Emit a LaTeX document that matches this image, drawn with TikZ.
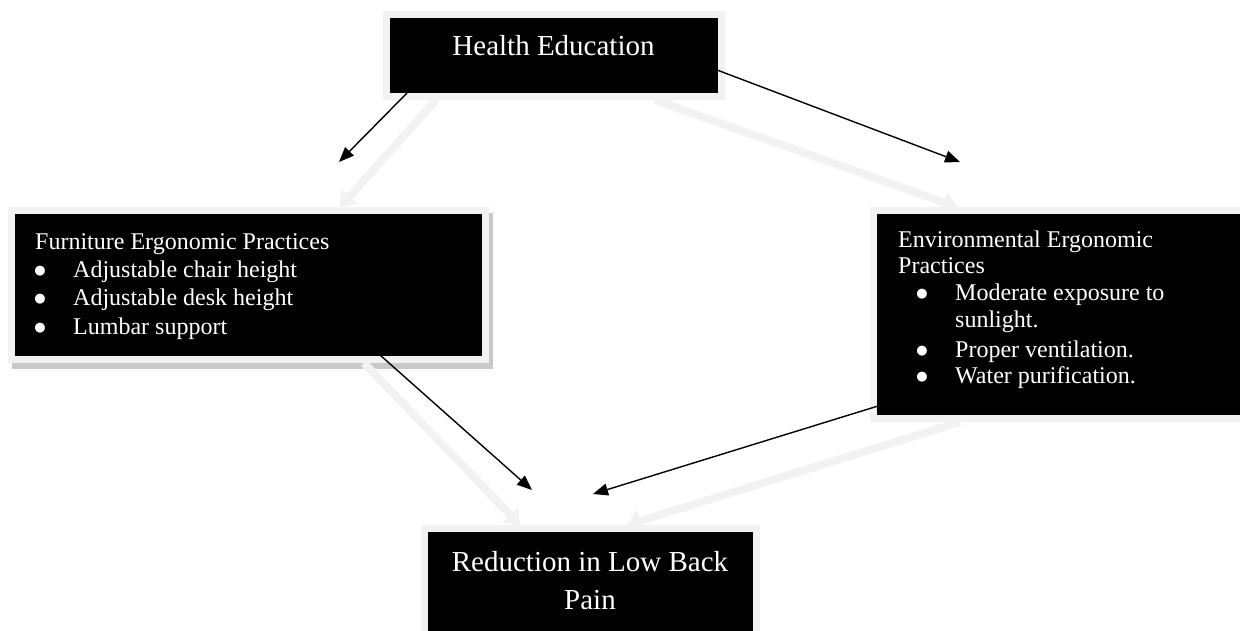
\documentclass[tikz,border=0pt]{standalone}
\usepackage{fontspec}
\setmainfont{Liberation Serif}
\newfontfamily\symfont{DejaVu Sans}
\usetikzlibrary{arrows.meta,calc,backgrounds}
\definecolor{framegray}{RGB}{242,242,242}
\definecolor{shadowgray}{RGB}{200,200,200}
\begin{document}
\begin{tikzpicture}[x=1pt,y=-1pt,
  box/.style={draw=framegray, line width=7pt, fill=black, anchor=north west, inner sep=0pt, outer sep=0pt},
  big/.style={text=white, inner sep=0pt, anchor=base, font=\fontsize{29}{34}\selectfont},
  small/.style={text=white, inner sep=0pt, anchor=base west, font=\fontsize{24}{28}\selectfont},
  bul/.style={text=white, inner sep=0pt, anchor=base, font=\symfont\fontsize{13}{14}\selectfont},
  garrow/.style={draw=framegray, line width=8pt, -{Triangle[width=22pt,length=14pt]}},
  barrow/.style={draw=black, line width=1.4pt, -{Triangle[width=12pt,length=15pt]}}]
\useasboundingbox (0,0) rectangle (1240,630);
\clip (0,0) rectangle (1240,630);

% boxes
\node[box, minimum width=335pt, minimum height=82pt] (he) at (386.5,14.5) {};
\node[box, minimum width=474pt, minimum height=149pt] (fur) at (11.5,210.5) {};
\node[box, minimum width=380pt, minimum height=208pt] (env) at (873.5,210.5) {};
\node[box, minimum width=332pt, minimum height=130pt] (red) at (424.5,528.5) {};

% texts
\node[big] (heT) at (553.5,55) {Health Education};

\node[small] (f0) at (35,249) {Furniture Ergonomic Practices};
\node[bul] (fb1) at (40,274) {●};
\node[small] (f1) at (73,277) {Adjustable chair height};
\node[bul] (fb2) at (40,302) {●};
\node[small] (f2) at (73,305) {Adjustable desk height};
\node[bul] (fb3) at (40,331) {●};
\node[small] (f3) at (73,334) {Lumbar support};

\node[small] (e0) at (898,247) {Environmental Ergonomic};
\node[small] (e1) at (898,273) {Practices};
\node[bul] (eb1) at (922,297) {●};
\node[small] (e2) at (955,300) {Moderate exposure to};
\node[small] (e3) at (955,327) {sunlight.};
\node[bul] (eb2) at (922,354) {●};
\node[small] (e4) at (955,357) {Proper ventilation.};
\node[bul] (eb3) at (922,380) {●};
\node[small] (e5) at (955,383) {Water purification.};

\node[big] (r0) at (590,571) {Reduction in Low Back};
\node[big] (r1) at (590,609) {Pain};

% shadow and grey arrows behind
\begin{pgfonlayer}{background}
\fill[shadowgray] ($(fur.north west)+(0.5,2.5)$) rectangle ($(fur.south east)+(7.5,9.5)$);
\draw[garrow] ($(he.south west)+(49.5,3.5)$) -- ($(fur.north west)+(328.5,-3.5)$);
\draw[garrow] ($(he.south west)+(268.5,3.5)$) -- ($(env.north west)+(83.5,-3.5)$);
\draw[garrow] ($(fur.south west)+(352.5,3.5)$) -- ($(red.north west)+(95.5,-3.5)$);
\draw[garrow] ($(env.south west)+(86.5,3.5)$) -- ($(red.north west)+(202.5,-3.5)$);
\end{pgfonlayer}

% black arrows
\coordinate (b1) at (339,162);
\coordinate (b2) at (960,162);
\coordinate (b3) at (532,490);
\coordinate (b4) at (593,494);
\draw[barrow] ($(he.south west)+(20.5,-3.5)$) -- (b1);
\draw[barrow] ($(he.north east)+(-4.5,55.5)$) -- (b2);
\draw[barrow] ($(fur.south west)+(368.5,-4.5)$) -- (b3);
\draw[barrow] ($(env.south west)+(4.5,-12.5)$) -- (b4);
\end{tikzpicture}
\end{document}
